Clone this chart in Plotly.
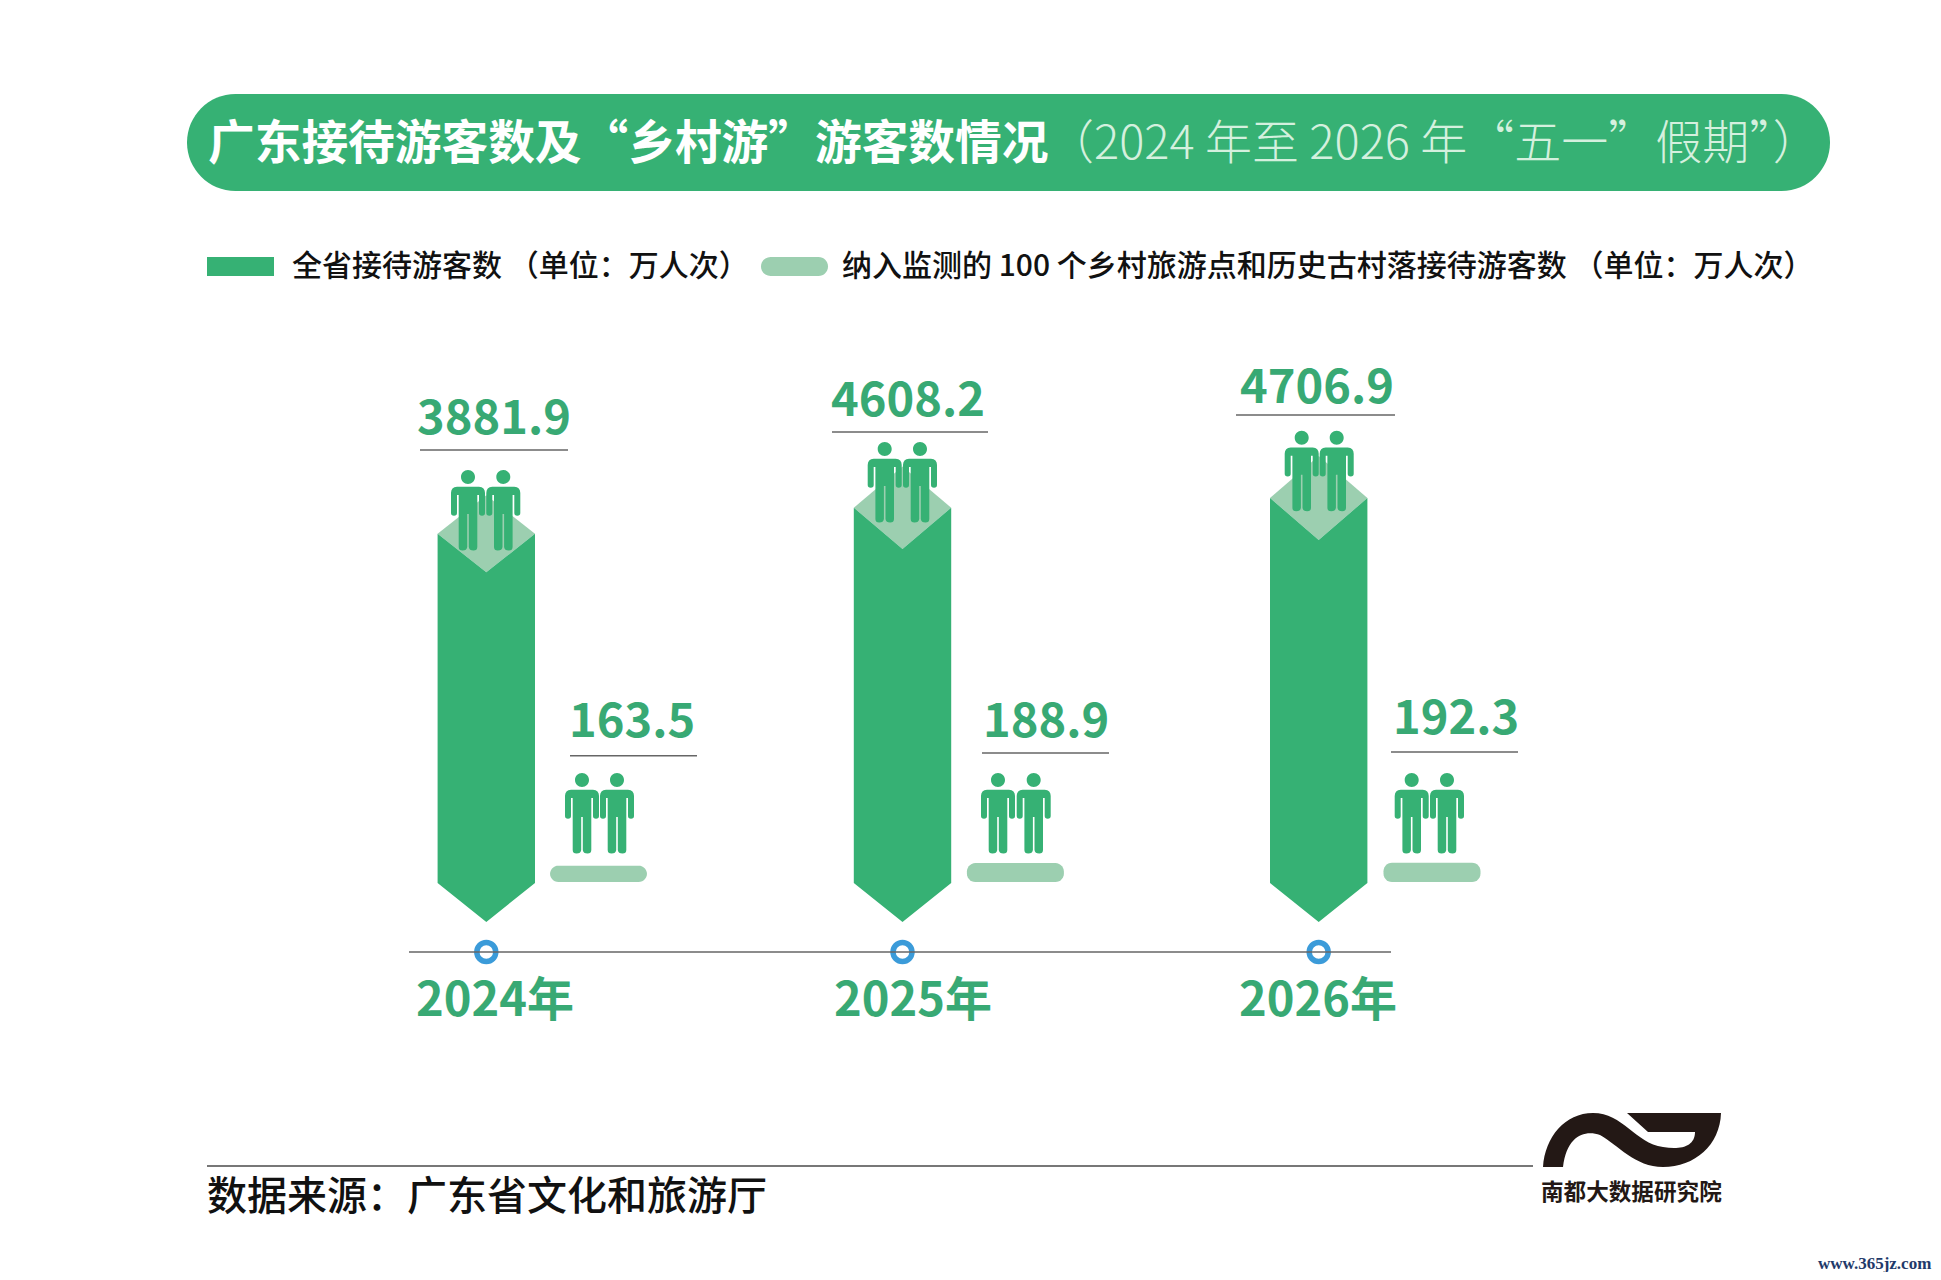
import numpy as np
import plotly.graph_objects as go

years = [2024, 2025, 2026]
year_labels = ["2024年", "2025年", "2026年"]
province_labels = ["3881.9", "4608.2", "4706.9"]
rural_labels = ["163.5", "188.9", "192.3"]
# the artwork is not to scale for the big columns, so these are the lengths as drawn
province_drawn = [3881.9, 4143, 4240]
rural_values = [163.5, 188.9, 192.3]

W, H = 1941, 1280
PAGE_MARGIN = 8  # the browser's default body margin around the plot
DARK = "#36b174"
LIGHT = "#9ccfb0"
TEXT_GREEN = "#38a974"
CJK = "Noto Sans CJK SC"

# x axis in years, y axis in visitors: 416.2 px per year, 0.1 px per unit
X_PER_PX = 1 / 416.2
Y_PER_PX = 10
X0 = 486.3
Y0 = 922
RURAL_BASE = 400
TIP = 390
HALF_W = 48.7 * X_PER_PX
PILL_HALF_W = 48.5 * X_PER_PX
PILL_R = 8.5


def xv(px):
    return 2024 + (px - X0) * X_PER_PX


def yv(px):
    return (Y0 - px) * Y_PER_PX


def pill_xy(cx, y0, y1):
    t = np.linspace(0, np.pi / 2, 8)
    rx, ry = PILL_R * X_PER_PX, PILL_R * Y_PER_PX
    l, r = cx - PILL_HALF_W + rx, cx + PILL_HALF_W - rx
    xs = np.concatenate([r + rx * np.cos(t), l - rx * np.sin(t), l - rx * np.cos(t), r + rx * np.sin(t)])
    ys = np.concatenate([y1 - ry + ry * np.sin(t), y1 - ry + ry * np.cos(t),
                         y0 + ry - ry * np.sin(t), y0 + ry - ry * np.cos(t)])
    return list(xs) + [xs[0]], list(ys) + [ys[0]]


PERSON = ("M-7,0 C-7,3.9 -3.9,7 0,7 C3.9,7 7,3.9 7,0 C7,-3.9 3.9,-7 0,-7 C-3.9,-7 -7,-3.9 -7,0 Z "
          "M0,-9.7 L11,-9.7 Q17,-10 17,-16 L17,-36 Q17,-38.7 14,-38.7 Q11,-38.7 11,-36 L11,-18 L9.3,-18 "
          "L9.3,-70 Q9.3,-73.5 5.5,-73.5 Q1.2,-73.5 0.8,-70 L0.8,-37 L-0.8,-37 L-0.8,-70 Q-1.2,-73.5 -5.5,-73.5 "
          "Q-9.3,-73.5 -9.3,-70 L-9.3,-18 L-11,-18 L-11,-36 Q-11,-38.7 -14,-38.7 Q-17,-38.7 -17,-36 L-17,-16 "
          "Q-17,-10 -11,-9.7 Z")

LOGO = ("M1543,-1167 C1545,-1137 1565,-1113 1593,-1113 C1623,-1113 1635,-1143 1663,-1147 "
        "C1680,-1150 1695,-1147 1695,-1132 L1648,-1132 L1627,-1113 L1721,-1113 "
        "C1720,-1145 1695,-1167 1663,-1167 C1635,-1167 1618,-1145 1600,-1135 "
        "C1585,-1130 1567,-1135 1563,-1167 Z")


def pill_path(x0, y0, x1, y1):
    r = (y1 - y0) / 2
    k = r * 0.5523
    return (f"M{x0 + r},{-y0} L{x1 - r},{-y0} C{x1 - r + k},{-y0} {x1},{-y0 - r + k} {x1},{-y0 - r} "
            f"C{x1},{-y1 + r - k} {x1 - r + k},{-y1} {x1 - r},{-y1} L{x0 + r},{-y1} "
            f"C{x0 + r - k},{-y1} {x0},{-y1 + r - k} {x0},{-y1 + r} C{x0},{-y0 - r + k} {x0 + r - k},{-y0} {x0 + r},{-y0} Z")


def add_pixel_shape(fig, path, color, ax=0, ay=0):
    # path is in pixels relative to the anchor, y pointing up
    fig.add_shape(type="path", xref="x", yref="y", xsizemode="pixel", ysizemode="pixel",
                  xanchor=xv(ax), yanchor=yv(ay), path=path, fillcolor=color, line_width=0)


def add_text(fig, text, px, py, size, color, anchor="center", weight=400, family=CJK):
    fig.add_annotation(x=xv(px), y=yv(py), xref="x", yref="y", text=text, showarrow=False,
                       xanchor=anchor, yanchor="middle", borderpad=0, borderwidth=0,
                       font=dict(family=family, size=size, color=color, weight=weight))


def add_rule(fig, x0, x1, y, color="#666666", width=1.4):
    fig.add_shape(type="line", xref="x", yref="y", x0=xv(x0), x1=xv(x1), y0=yv(y), y1=yv(y),
                  line=dict(color=color, width=width))


fig = go.Figure()

# positions of the labels and figures, in picture pixels
big_label_x = [493.5, 907.5, 1316.5]
big_label_y = [413, 395, 382]
big_rule = [(420, 568, 450), (832, 988, 432), (1236, 1395, 415)]
big_head_y = [477, 449, 437.7]
big_person_x = [(468, 503.3), (884.7, 920), (1301.7, 1336.7)]
small_label_x = [632, 1046, 1456]
small_label_y = [716, 716, 713]
small_rule = [(570, 697, 755.7), (982, 1109, 753), (1391, 1518, 752)]
small_person_x = [(582, 617), (998, 1033.7), (1411.7, 1447)]
small_center_x = [598.5, 1015.4, 1432]
year_label_x = [495, 913, 1318]
notch = [385, 412, 420]

for i, year in enumerate(years):
    top = province_drawn[i]
    # light diamond on top of the column
    fig.add_trace(go.Scatter(x=[year - HALF_W, year, year + HALF_W, year, year - HALF_W],
                             y=[top, top + notch[i], top, top - notch[i], top],
                             fill="toself", fillcolor=LIGHT, mode="none", showlegend=False))
    fig.add_trace(go.Scatter(x=[year - HALF_W, year, year + HALF_W, year + HALF_W, year, year - HALF_W, year - HALF_W],
                             y=[top, top - notch[i], top, TIP, 0, TIP, top],
                             fill="toself", fillcolor=DARK, mode="none", showlegend=False))
    px, py = pill_xy(xv(small_center_x[i]), RURAL_BASE, RURAL_BASE + rural_values[i])
    fig.add_trace(go.Scatter(x=px, y=py, fill="toself", fillcolor=LIGHT, mode="none", showlegend=False))

    for p in big_person_x[i]:
        add_pixel_shape(fig, PERSON, DARK, p, big_head_y[i])
    for p in small_person_x[i]:
        add_pixel_shape(fig, PERSON, DARK, p, 780)

    add_text(fig, province_labels[i], big_label_x[i], big_label_y[i], 47, TEXT_GREEN, weight=700)
    add_text(fig, rural_labels[i], small_label_x[i], small_label_y[i], 47, TEXT_GREEN, weight=700)
    add_text(fig, year_labels[i], year_label_x[i], 995, 47, TEXT_GREEN, weight=700)
    add_rule(fig, *big_rule[i])
    add_rule(fig, *small_rule[i])

# time axis
add_rule(fig, 409, 1391, 952, width=1.6)
fig.add_trace(go.Scatter(x=years, y=[yv(952)] * 3, mode="markers", showlegend=False,
                         marker=dict(size=19, color="white", line=dict(color="#3b9bd9", width=5.5))))

# title band
add_pixel_shape(fig, pill_path(187, 94, 1830, 191), DARK)
add_text(fig, "广东接待游客数及“乡村游”游客数情况", 208, 138, 46.7, "white", "left", weight=700)
add_text(fig, "（2024 年至 2026 年“五一”假期”）", 1047, 138, 47, "#d4f0de", "left", weight=300)

# legend
fig.add_shape(type="rect", xref="x", yref="y", x0=xv(207), x1=xv(274), y0=yv(257), y1=yv(276),
              fillcolor=DARK, line_width=0)
add_pixel_shape(fig, pill_path(761, 257, 828, 276), LIGHT)
add_text(fig, "全省接待游客数 （单位：万人次）", 292, 262.5, 30, "#111111", "left", weight=500)
add_text(fig, "纳入监测的 100 个乡村旅游点和历史古村落接待游客数 （单位：万人次）", 842, 262.5, 30, "#111111", "left", weight=500)

# footer
add_rule(fig, 207, 1533, 1166, color="#777777", width=2)
add_text(fig, "数据来源：广东省文化和旅游厅", 207, 1193, 40, "#111111", "left", weight=500)
add_pixel_shape(fig, LOGO, "#231815")
add_text(fig, "南都大数据研究院", 1631.5, 1190, 22.6, "#231815", weight=700)
add_text(fig, "www.365jz.com", 1874, 1263, 17, "#1f3a6a", weight=700, family="Liberation Serif")

fig.update_layout(width=W - 2 * PAGE_MARGIN, height=H - 2 * PAGE_MARGIN, margin=dict(l=0, r=0, t=0, b=0),
                  paper_bgcolor="white", plot_bgcolor="white", showlegend=False,
                  xaxis=dict(range=[xv(PAGE_MARGIN), xv(W - PAGE_MARGIN)], visible=False),
                  yaxis=dict(range=[yv(H - PAGE_MARGIN), yv(PAGE_MARGIN)], visible=False))

fig.write_html("out.html")
